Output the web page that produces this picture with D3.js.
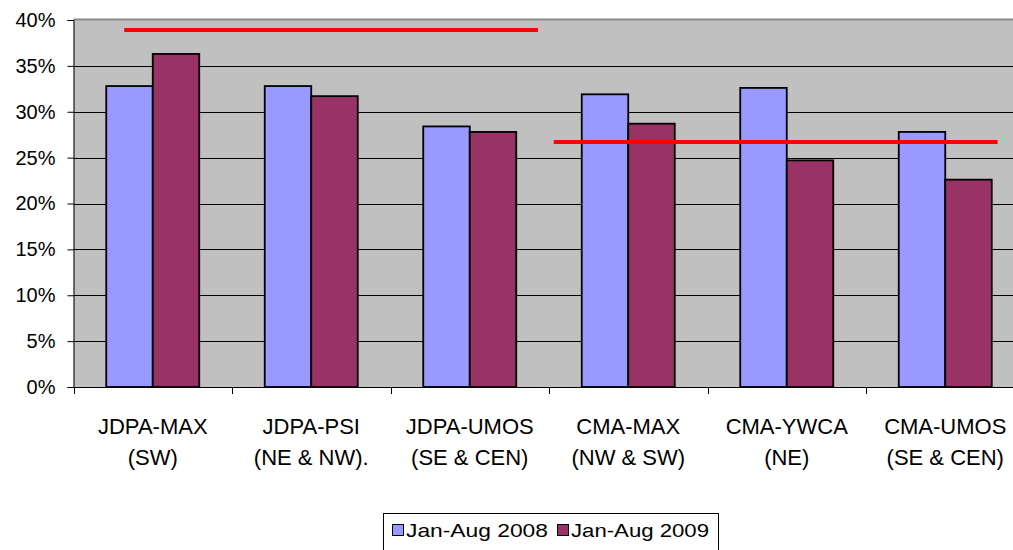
<!DOCTYPE html>
<html><head><meta charset="utf-8">
<script src="https://cdn.jsdelivr.net/npm/d3@7"></script>
<style>body{margin:0;background:#fff}svg{display:block;font-family:"Liberation Sans",Arial,sans-serif}</style>
</head><body>
<svg id="c" width="1013" height="550"></svg>
<script>
const categories = ["JDPA-MAX\n(SW)", "JDPA-PSI\n(NE & NW).", "JDPA-UMOS\n(SE & CEN)", "CMA-MAX\n(NW & SW)", "CMA-YWCA\n(NE)", "CMA-UMOS\n(SE & CEN)"];
const seriesNames = ["Jan-Aug 2008", "Jan-Aug 2009"];
const values2008 = [32.8, 32.8, 28.4, 31.9, 32.6, 27.8];
const values2009 = [36.3, 31.7, 27.8, 28.7, 24.7, 22.6];
const yTicks = [0, 5, 10, 15, 20, 25, 30, 35, 40];
// red reference lines: value and span in category-index units
const refLines = [
  {value: 38.9, from: 0.32, to: 2.93},
  {value: 26.7, from: 3.03, to: 5.83}
];
const colors = ["#9999FF", "#993366"];

const svg = d3.select("#c");
const L = 73.5, T = 20, B = 387, R = L + 6 * 158.5;
const x = d3.scaleBand().domain(d3.range(categories.length)).range([L, R]).paddingInner(0).paddingOuter(0);
const xi = d3.scaleLinear().domain([0, categories.length]).range([L, R]);
const y = d3.scaleLinear().domain([0, 40]).range([B, T]);

// plot background
svg.append("rect").attr("x", L).attr("y", T).attr("width", R - L).attr("height", B - T).attr("fill", "#C0C0C0");
svg.append("line").attr("x1", L).attr("x2", R).attr("y1", T - 0.5).attr("y2", T - 0.5).attr("stroke", "#8a8a8a").attr("stroke-width", 2);

// gridlines
svg.append("g").selectAll("line").data(yTicks.filter(d => d > 0 && d < 40)).join("line")
  .attr("x1", L).attr("x2", R).attr("y1", d => Math.round(y(d)) + 0.5).attr("y2", d => Math.round(y(d)) + 0.5)
  .attr("stroke", "#000").attr("stroke-width", 1);

// bars
const series = [values2008, values2009];
const bw = 46.5, gap = (x.bandwidth() - 2 * bw) / 2;
series.forEach((vals, s) => {
  svg.append("g").selectAll("rect").data(vals).join("rect")
    .attr("x", (d, i) => x(i) + gap + s * bw)
    .attr("y", d => y(d))
    .attr("width", bw)
    .attr("height", d => B - y(d))
    .attr("fill", colors[s])
    .attr("stroke", "#000").attr("stroke-width", 1.8);
});

// y axis
const ya = d3.axisLeft(y).tickValues(yTicks).tickFormat(d => d + "%").tickSize(6).tickPadding(12);
const yg = svg.append("g").attr("transform", `translate(${L},0)`).call(ya);
yg.select(".domain").attr("stroke", "#000");
yg.selectAll("text").attr("font-size", 20).attr("fill", "#000").attr("font-family", "Liberation Sans, Arial, sans-serif");

// x axis
const xg = svg.append("g");
xg.append("line").attr("x1", L).attr("x2", R).attr("y1", B + 0.5).attr("y2", B + 0.5).attr("stroke", "#000");
xg.selectAll("line.t").data(d3.range(categories.length + 1)).join("line").attr("class", "t")
  .attr("x1", d => Math.round(xi(d)) + 0.5).attr("x2", d => Math.round(xi(d)) + 0.5)
  .attr("y1", B).attr("y2", B + 7).attr("stroke", "#000");
const lab = xg.selectAll("text").data(categories).join("text")
  .attr("text-anchor", "middle").attr("font-size", 22).attr("fill", "#000")
  .attr("transform", (d, i) => `translate(${x(i) + x.bandwidth() / 2},0)`);
lab.each(function(d) {
  const parts = d.split("\n");
  d3.select(this).selectAll("tspan").data(parts).join("tspan")
    .attr("x", 0).attr("y", (p, j) => 434 + j * 31).text(p => p);
});

// red reference lines
svg.append("g").selectAll("line").data(refLines).join("line")
  .attr("x1", d => xi(d.from)).attr("x2", d => xi(d.to))
  .attr("y1", d => y(d.value)).attr("y2", d => y(d.value))
  .attr("stroke", "#FF0000").attr("stroke-width", 4);

// legend
const lg = svg.append("g");
lg.append("rect").attr("x", 383.5).attr("y", 513.5).attr("width", 335).attr("height", 40).attr("fill", "#fff").attr("stroke", "#000");
const items = [{x: 392, w: 142}, {x: 557, w: 138}];
seriesNames.forEach((n, i) => {
  lg.append("rect").attr("x", items[i].x + 0.5).attr("y", 524.5).attr("width", 11).attr("height", 11)
    .attr("fill", colors[i]).attr("stroke", "#000");
  lg.append("text").attr("x", items[i].x + 14).attr("y", 537).attr("font-size", 19)
    .attr("textLength", items[i].w).attr("lengthAdjust", "spacingAndGlyphs")
    .attr("fill", "#000").text(n);
});
</script>
</body></html>
